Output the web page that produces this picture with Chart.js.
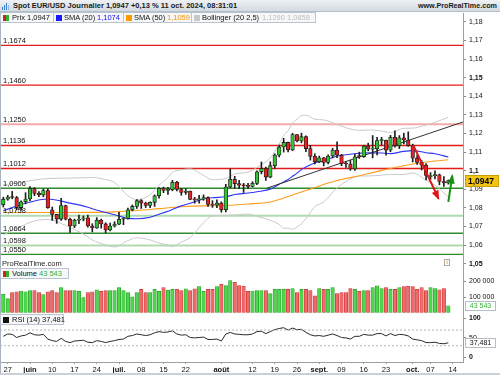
<!DOCTYPE html>
<html><head><meta charset="utf-8">
<script src="https://cdn.jsdelivr.net/npm/chart.js@4.4.1/dist/chart.umd.min.js"></script>
<style>
html,body{margin:0;padding:0;background:#fff;}
#wrap{position:relative;width:500px;height:375px;overflow:hidden;font-family:"Liberation Sans",Arial,sans-serif;}
canvas{position:absolute;left:0;}
.abs{position:absolute;white-space:nowrap;}
.lg{position:absolute;height:11px;box-sizing:border-box;border:1px solid #b9c4cf;background:#f5f7f9;font-size:7.5px;}
.lg i{position:absolute;top:1.5px;width:6px;height:6px;}
.lg span{position:absolute;top:0;line-height:9px;white-space:nowrap;color:#111;}
</style></head>
<body>
<div id="wrap">
<canvas id="cMain" width="500" height="255" style="top:13px"></canvas>
<canvas id="cVol" width="500" height="45" style="top:268px"></canvas>
<canvas id="cRsi" width="500" height="62" style="top:313px"></canvas>

<div class="abs" style="left:0;top:0;width:1px;height:375px;background:#a9b3bd"></div>
<div class="abs" style="left:0;top:373px;width:500px;height:2px;background:#c9d0d7"></div>

<div class="abs" style="left:0;top:0;width:500px;height:12px;background:linear-gradient(#eef1f4,#d3dae1);border-bottom:1px solid #b4bec8;box-sizing:border-box"></div>
<div class="abs" style="left:2px;top:2px;width:9px;height:8px">
  <span class="abs" style="left:0;top:5px;width:1px;height:3px;background:#3f7fd0"></span>
  <span class="abs" style="left:2px;top:3px;width:1px;height:5px;background:#3f7fd0"></span>
  <span class="abs" style="left:4px;top:1px;width:1px;height:7px;background:#3f7fd0"></span>
  <span class="abs" style="left:6px;top:3px;width:1px;height:5px;background:#8fb7e6"></span>
</div>
<div class="abs" style="left:13px;top:0;font-weight:bold;font-size:7.5px;line-height:11px;color:#1a1a1a">Spot EUR/USD Journalier 1,0947 +0,13 % 11 oct. 2024, 08:31:01</div>
<div class="abs" style="right:3px;top:0;font-weight:bold;font-size:7.2px;line-height:11px;color:#1a1a1a">www.ProRealTime.com</div>

<div class="lg" style="left:0;top:12px;width:54px"><i style="left:2px;background:linear-gradient(90deg,#d42020 50%,#2bb52b 50%)"></i><span style="left:11px">Prix 1,0947</span></div>
<div class="lg" style="left:53px;top:12px;width:71px"><i style="left:2px;background:#1a1aff"></i><span style="left:10px">SMA (20)</span><span style="left:43px;color:#1414ee">1,1074</span></div>
<div class="lg" style="left:123px;top:12px;width:69px"><i style="left:2px;background:#ff9a00"></i><span style="left:10px">SMA (50)</span><span style="left:43px;color:#f39200">1,1059</span></div>
<div class="lg" style="left:191px;top:12px;width:125px"><i style="left:2px;background:#c8c8c8"></i><span style="left:10px">Bollinger (20 2,5)</span><span style="left:70px;color:#bdbdbd">1,1290 1,0858</span></div>

<div class="abs" style="left:2px;top:259px;font-size:7.5px;line-height:9px;color:#222">ProRealTime.com</div>
<div class="abs" style="left:444px;top:259px;width:6px;height:7px;border:1px solid #aaa;box-sizing:border-box;font-size:5.5px;line-height:5px;text-align:center;color:#777;background:#fff">i</div>

<div class="lg" style="left:0;top:268px;width:69px"><i style="left:2px;background:linear-gradient(90deg,#d42020 50%,#2bb52b 50%)"></i><span style="left:11px">Volume</span><span style="left:38px;color:#2fb52f">43 543</span></div>
<div class="lg" style="left:0;top:314px;width:64px"><i style="left:2px;background:#111"></i><span style="left:11px">RSI (14) 37,481</span></div>
</div>

<script>
// ---------------- DATA ----------------
const dates = ["24/05","27/05","28/05","29/05","30/05","31/05","03/06","04/06","05/06","06/06","07/06","10/06","11/06","12/06","13/06","14/06","17/06","18/06","19/06","20/06","21/06","24/06","25/06","26/06","27/06","28/06","01/07","02/07","03/07","04/07","05/07","08/07","09/07","10/07","11/07","12/07","15/07","16/07","17/07","18/07","19/07","22/07","23/07","24/07","25/07","26/07","29/07","30/07","31/07","01/08","02/08","05/08","06/08","07/08","08/08","09/08","12/08","13/08","14/08","15/08","16/08","19/08","20/08","21/08","22/08","23/08","26/08","27/08","28/08","29/08","30/08","02/09","03/09","04/09","05/09","06/09","09/09","10/09","11/09","12/09","13/09","16/09","17/09","18/09","19/09","20/09","23/09","24/09","25/09","26/09","27/09","30/09","01/10","02/10","03/10","04/10","07/10","08/10","09/10","10/10","11/10"];
const opens = [1.0817,1.0847,1.0858,1.0856,1.0802,1.0833,1.0848,1.0904,1.0878,1.0870,1.0893,1.0790,1.0765,1.0740,1.0813,1.0739,1.0703,1.0734,1.0740,1.0747,1.0703,1.0692,1.0734,1.0714,1.0682,1.0703,1.0713,1.0739,1.0743,1.0790,1.0808,1.0839,1.0826,1.0813,1.0830,1.0865,1.0906,1.0894,1.0898,1.0938,1.0899,1.0883,1.0891,1.0846,1.0843,1.0848,1.0855,1.0819,1.0815,1.0826,1.0791,1.0912,1.0954,1.0931,1.0922,1.0919,1.0916,1.0932,1.0994,1.1012,1.0966,1.1027,1.1084,1.1128,1.1152,1.1112,1.1194,1.1160,1.1183,1.1119,1.1077,1.1048,1.1069,1.1045,1.1079,1.1111,1.1083,1.1038,1.1036,1.1010,1.1080,1.1076,1.1133,1.1116,1.1118,1.1162,1.1164,1.1110,1.1180,1.1134,1.1177,1.1165,1.1135,1.1067,1.1045,1.1030,1.0968,1.0974,1.0978,1.0942,1.0935];
const highs = [1.0858,1.0868,1.0889,1.0862,1.0838,1.0882,1.0915,1.0909,1.0888,1.0902,1.0902,1.0805,1.0766,1.0852,1.0815,1.0745,1.0740,1.0761,1.0757,1.0761,1.0715,1.0748,1.0740,1.0720,1.0718,1.0726,1.0776,1.0748,1.0799,1.0816,1.0845,1.0845,1.0831,1.0833,1.0870,1.0909,1.0912,1.0911,1.0948,1.0943,1.0905,1.0903,1.0891,1.0857,1.0868,1.0870,1.0860,1.0839,1.0843,1.0833,1.0927,1.1009,1.0970,1.0949,1.0932,1.0932,1.0941,1.1000,1.1047,1.1019,1.1048,1.1091,1.1138,1.1174,1.1154,1.1201,1.1195,1.1202,1.1187,1.1136,1.1091,1.1079,1.1072,1.1085,1.1121,1.1156,1.1088,1.1048,1.1055,1.1088,1.1100,1.1137,1.1148,1.1189,1.1180,1.1180,1.1165,1.1190,1.1214,1.1189,1.1202,1.1209,1.1143,1.1084,1.1055,1.1038,1.0990,1.0999,1.0982,1.0968,1.0950];
const lows = [1.0805,1.0841,1.0849,1.0789,1.0788,1.0822,1.0837,1.0866,1.0860,1.0860,1.0798,1.0733,1.0717,1.0733,1.0735,1.0668,1.0694,1.0715,1.0730,1.0697,1.0671,1.0690,1.0691,1.0666,1.0677,1.0697,1.0710,1.0710,1.0739,1.0784,1.0797,1.0797,1.0802,1.0801,1.0808,1.0852,1.0882,1.0872,1.0892,1.0891,1.0868,1.0873,1.0844,1.0825,1.0825,1.0841,1.0808,1.0803,1.0801,1.0777,1.0778,1.0908,1.0905,1.0903,1.0883,1.0904,1.0913,1.0925,1.0983,1.0948,1.0962,1.1012,1.1074,1.1100,1.1101,1.1108,1.1155,1.1150,1.1103,1.1057,1.1036,1.1044,1.1026,1.1037,1.1069,1.1070,1.1027,1.1018,1.1002,1.1001,1.1066,1.1072,1.1107,1.1069,1.1085,1.1138,1.1083,1.1102,1.1126,1.1119,1.1144,1.1131,1.1047,1.1034,1.1004,1.0951,1.0954,1.0956,1.0924,1.0916,1.0928];
const closes = [1.0847,1.0858,1.0856,1.0802,1.0833,1.0848,1.0904,1.0878,1.0870,1.0893,1.0801,1.0765,1.0740,1.0813,1.0739,1.0703,1.0734,1.0740,1.0747,1.0703,1.0692,1.0734,1.0714,1.0682,1.0703,1.0713,1.0739,1.0743,1.0790,1.0808,1.0839,1.0826,1.0813,1.0830,1.0865,1.0906,1.0894,1.0898,1.0938,1.0899,1.0883,1.0891,1.0846,1.0843,1.0848,1.0855,1.0819,1.0815,1.0826,1.0791,1.0912,1.0954,1.0931,1.0922,1.0919,1.0916,1.0932,1.0994,1.1012,1.0966,1.1027,1.1084,1.1128,1.1152,1.1112,1.1194,1.1160,1.1183,1.1119,1.1077,1.1048,1.1069,1.1045,1.1079,1.1111,1.1083,1.1038,1.1036,1.1010,1.1075,1.1076,1.1133,1.1116,1.1118,1.1162,1.1164,1.1110,1.1180,1.1134,1.1177,1.1165,1.1135,1.1067,1.1045,1.1030,1.0975,1.0974,1.0978,1.0942,1.0935,1.0947];
const volumes = [118000,90000,128000,134000,139000,134000,141000,141000,128000,116000,
134000,141000,128000,160000,141000,141000,141000,137000,97000,128000,
134000,147000,137000,141000,141000,141000,160000,141000,128000,101000,
128000,149000,128000,128000,149000,137000,160000,145000,149000,149000,
141000,153000,141000,153000,168000,137000,149000,149000,168000,181000,
174000,206000,195000,174000,170000,137000,139000,141000,141000,141000,
122000,149000,149000,149000,149000,155000,128000,149000,149000,141000,
107000,155000,149000,149000,160000,122000,128000,128000,155000,149000,
137000,141000,141000,160000,172000,155000,160000,149000,149000,160000,
168000,170000,168000,149000,160000,141000,160000,155000,147000,155000,
43543];
const rsi14 = [54,60,59,51,55,57,63,58,57,59,47,43,41,49,41,38,42,43,44,39,38,43,41,38,41,43,46,47,54,56,60,58,56,58,63,66,64,65,68,60,57,58,51,50,51,52,46,46,47,42,60,64,60,59,58,58,60,66,67,61,66,71,74,76,70,75,71,72,64,58,55,56,54,57,60,56,51,50,47,54,54,59,57,57,61,61,55,61,56,59,58,55,47,45,43,38,38,39,36,35,37.481];

const sma20Idx = [0,5,10,15,19,20,25,28,30,33,35,37,38,40,42,45,47,50,52,55,57,60,62,63,64,65,66,67,68,70,72,75,77,80,82,85,87,90,92,95,97,100];
const sma20Val = [1.0785,1.0825,1.0848,1.0826,1.0804,1.0796,1.0763,1.0744,1.0742,1.0750,1.0766,1.0782,1.0792,1.0811,1.0825,1.0848,1.0855,1.0860,1.0872,1.0880,1.0887,1.0901,1.0927,1.0940,1.0953,1.0970,1.0987,1.1006,1.1020,1.1042,1.1053,1.1079,1.1086,1.1094,1.1096,1.1095,1.1092,1.1104,1.1108,1.1097,1.1091,1.1074];
const sma50Idx = [0,5,10,15,20,25,30,35,40,45,49,55,60,65,70,75,80,85,90,95,100];
const sma50Val = [1.0776,1.0775,1.0775,1.0775,1.0776,1.0779,1.0786,1.0796,1.0806,1.0811,1.0812,1.0821,1.0832,1.0870,1.0910,1.0947,1.0973,1.1002,1.1027,1.1047,1.1059];
const bbIdx = [0,3,7,10,14,19,20,23,25,28,30,33,35,37,38,40,42,45,47,50,52,55,57,60,62,63,64,65,66,67,68,70,72,75,77,80,82,85,87,90,92,95,97,100];
const bbUpper = [1.0925,1.0933,1.0950,1.0958,1.0960,1.0963,1.0964,1.0952,1.0937,1.0865,1.0845,1.0871,1.0922,1.0963,1.0990,1.1005,1.1010,1.0975,1.0952,1.0958,1.0982,1.0993,1.1018,1.1069,1.1143,1.1191,1.1215,1.1256,1.1277,1.1296,1.1298,1.1277,1.1273,1.1249,1.1231,1.1217,1.1219,1.1214,1.1205,1.1228,1.1229,1.1246,1.1260,1.1288];
const bbLower = [1.0655,1.0690,1.0730,1.0738,1.0706,1.0645,1.0628,1.0601,1.0590,1.0624,1.0639,1.0628,1.0611,1.0601,1.0593,1.0617,1.0641,1.0720,1.0758,1.0761,1.0762,1.0767,1.0755,1.0733,1.0711,1.0690,1.0692,1.0685,1.0698,1.0715,1.0743,1.0806,1.0833,1.0908,1.0942,1.0971,1.0972,1.0976,1.0980,1.0980,1.0988,1.0949,1.0922,1.0860];

const levelValues = [1.1674,1.1460,1.1250,1.1136,1.1012,1.0906,1.0758,1.0664,1.0598,1.0550];
const levelLabels = ["1,1674","1,1460","1,1250","1,1136","1,1012","1,0906","1,0758","1,0664","1,0598","1,0550"];
const trendIdx = [59.3, 103.3, 111.6];
const trendVal = [1.0907, 1.1262, 1.1271];
const redArrowIdx = [92.1, 95.0, 97.8];
const redArrowVal = [1.1138, 1.0993, 1.0850];
const greenArrowIdx = [100.0, 100.9];
const greenArrowVal = [1.0832, 1.0974];

const priceTicks = [1.05,1.06,1.07,1.08,1.09,1.10,1.11,1.12,1.13,1.14,1.15,1.16,1.17,1.18];
const priceTickLabels = ["1,05","1,06","1,07","1,08","1,09","1,1","1,11","1,12","1,13","1,14","1,15","1,16","1,17","1,18"];
const boldPriceTicks = ["1,05","1,1","1,15"];
const volTicks = [100000,200000];
const volTickLabels = ["100 000","200 000"];
const rsiTicks = [0,50,100];
const rsiTickLabels = ["0","50","100"];
const rsiLevels = [70,30];
const xTickIdx = [1,6,11,16,21,26,31,36,41,49,56,61,66,71,76,81,86,92,96,101];
const xTickLabels = ["27","juin","10","17","24","juil.","08","15","22","août","12","19","26","sept.","09","16","23","oct.","07","14"];
const monthLabels = ["juin","juil.","août","sept.","oct."];

// ---------------- STYLE / LAYOUT ----------------
const XMIN = -0.742, XMAX = 103.3;
const PMIN = 1.0477, PMAX = 1.1848;
const FONT = '"Liberation Sans", Arial, sans-serif';
Chart.defaults.font.family = FONT;
const levelStyle = [
  ['#e31b1b',1.4],['#e31b1b',1.4],['#f5aaaa',2.2],['#e31b1b',1.4],['#e31b1b',1.4],
  ['#2e8b2e',1.4],['#b0dbb0',2.2],['#2e8b2e',1.4],['#b0dbb0',2.2],['#2e8b2e',1.4]
];
const GREEN = '#33c433', RED = '#e42222';

const idx = dates.map((d,i)=>i);
const up = idx.map(i => closes[i] >= opens[i]);
const pts = (xs, ys) => xs.map((x,i)=>({x, y: ys[i]}));
const commaFmt = (v, d) => v.toFixed(d).replace('.', ',');
const spaceFmt = v => String(Math.round(v)).replace(/\B(?=(\d{3})+(?!\d))/g, ' ');

function rightAxis(min, max, ticks, labels, boldList) {
  return {
    type:'linear', position:'right', min, max, beginAtZero:false,
    afterBuildTicks: s => { s.ticks = ticks.map(v=>({value:v})); },
    afterFit: s => { s.width = 37; s.paddingTop = 0; s.paddingBottom = 0; },
    ticks: { callback:(v,i)=>labels[i], color:'#111', padding:3,
      font: c => ({size:7, family:FONT, weight: boldList.includes(labels[c.index]) ? 'bold' : 'normal'}) },
    grid: { drawOnChartArea:false, drawTicks:true, tickLength:3, color:'#8c8c8c', offset:false },
    border: { display:true, color:'#9aa0a6' }
  };
}
const hiddenX = { type:'linear', min:XMIN, max:XMAX, display:false, offset:false, grid:{offset:false} };
const baseOpts = { responsive:false, animation:false, devicePixelRatio:1, events:[],
  layout:{padding:0}, plugins:{legend:{display:false}, tooltip:{enabled:false}} };

function drawHead(ctx, xs, ys, xi, yv, col) {
  const n = xi.length;
  const x1 = xs.getPixelForValue(xi[n-2]), y1 = ys.getPixelForValue(yv[n-2]);
  const x2 = xs.getPixelForValue(xi[n-1]), y2 = ys.getPixelForValue(yv[n-1]);
  const a = Math.atan2(y2-y1, x2-x1), L = 8, W = 3.6;
  const bx = x2 - Math.cos(a)*L, by = y2 - Math.sin(a)*L;
  ctx.fillStyle = col; ctx.beginPath();
  ctx.moveTo(x2 + Math.cos(a)*1.5, y2 + Math.sin(a)*1.5);
  ctx.lineTo(bx - Math.sin(a)*W, by + Math.cos(a)*W);
  ctx.lineTo(bx + Math.sin(a)*W, by - Math.cos(a)*W);
  ctx.closePath(); ctx.fill();
}
function tag(ctx, py, text, bg, fg, border, bold, size) {
  ctx.save();
  ctx.fillStyle = bg; ctx.fillRect(465.5, Math.round(py)-4.5, 30, 9);
  ctx.strokeStyle = border; ctx.lineWidth = 1; ctx.strokeRect(465.5, Math.round(py)-4.5, 30, 9);
  ctx.fillStyle = fg; ctx.font = (bold?'bold ':'') + size + 'px ' + FONT;
  ctx.textBaseline = 'middle'; ctx.textAlign = 'center';
  ctx.fillText(text, 480.5, Math.round(py)+0.5);
  ctx.restore();
}

// ---------------- MAIN PRICE CHART ----------------
const mainOverlay = {
  id:'mainOverlay',
  afterDatasetsDraw(chart) {
    const {ctx} = chart, xs = chart.scales.x, ys = chart.scales.y;
    ctx.save();
    ctx.font = '7.5px ' + FONT; ctx.fillStyle = '#111';
    ctx.textBaseline = 'alphabetic'; ctx.textAlign = 'left';
    levelValues.forEach((v,i)=> ctx.fillText(levelLabels[i], 3, ys.getPixelForValue(v) - 2.5));
    drawHead(ctx, xs, ys, redArrowIdx, redArrowVal, '#e01414');
    drawHead(ctx, xs, ys, greenArrowIdx, greenArrowVal, '#149014');
    ctx.restore();
  },
  afterDraw(chart) {
    const ys = chart.scales.y, last = closes[closes.length-1];
    const ctx = chart.ctx, py = Math.round(ys.getPixelForValue(last));
    ctx.save();
    ctx.fillStyle = '#f3c316'; ctx.fillRect(465.5, py-5.5, 33, 11);
    ctx.strokeStyle = '#caa000'; ctx.strokeRect(465.5, py-5.5, 33, 11);
    ctx.fillStyle = '#000'; ctx.font = 'bold 8.5px ' + FONT;
    ctx.textBaseline = 'middle'; ctx.textAlign = 'left';
    ctx.fillText(commaFmt(last,4), 468, py+0.5);
    ctx.restore();
  }
};

const mainSets = [];
levelValues.forEach((v,i)=> mainSets.push({type:'line', data:[{x:XMIN,y:v},{x:XMAX,y:v}],
  borderColor:levelStyle[i][0], borderWidth:levelStyle[i][1], pointRadius:0, order:20}));
mainSets.push({type:'line', data:pts(bbIdx,bbUpper), borderColor:'#c9c9c9', borderWidth:1, pointRadius:0, cubicInterpolationMode:'monotone', order:15});
mainSets.push({type:'line', data:pts(bbIdx,bbLower), borderColor:'#c9c9c9', borderWidth:1, pointRadius:0, cubicInterpolationMode:'monotone', order:15});
mainSets.push({type:'line', data:pts(sma50Idx,sma50Val), borderColor:'#ff9d1a', borderWidth:1.1, pointRadius:0, cubicInterpolationMode:'monotone', order:14});
mainSets.push({type:'line', data:pts(sma20Idx,sma20Val), borderColor:'#2f35f5', borderWidth:1.1, pointRadius:0, cubicInterpolationMode:'monotone', order:13});
mainSets.push({type:'line', data:pts(trendIdx,trendVal), borderColor:'#333', borderWidth:1, pointRadius:0, clip:false, order:12});
mainSets.push({type:'bar', data:idx.map(i=>({x:i, y:[lows[i], highs[i]]})), backgroundColor:'#1e1e1e',
  barThickness:1, grouped:false, borderWidth:0, order:8});
mainSets.push({type:'bar', data:idx.map(i=>({x:i, y:[opens[i], closes[i]]})),
  backgroundColor: up.map(u=>u?GREEN:RED), borderColor:'#1e1e1e', borderWidth:0.8, borderSkipped:false,
  barThickness:3.6, minBarLength:1, grouped:false, order:7});
mainSets.push({type:'line', data:pts(redArrowIdx,redArrowVal), borderColor:'#e01414', borderWidth:2, pointRadius:0, clip:false, order:2});
mainSets.push({type:'line', data:pts(greenArrowIdx,greenArrowVal), borderColor:'#149014', borderWidth:2, pointRadius:0, clip:false, order:2});

new Chart(document.getElementById('cMain'), {
  type:'bar', data:{datasets:mainSets},
  options:Object.assign({}, baseOpts, { scales:{ x:hiddenX,
    y:rightAxis(PMIN, PMAX, priceTicks, priceTickLabels, boldPriceTicks) } }),
  plugins:[mainOverlay]
});

// ---------------- VOLUME ----------------
const volOverlay = { id:'volOverlay', afterDraw(chart){
  const py = chart.scales.y.getPixelForValue(volumes[volumes.length-1]);
  tag(chart.ctx, py, spaceFmt(volumes[volumes.length-1]), '#fff', '#33b533', '#b5bec7', false, 7);
}};
new Chart(document.getElementById('cVol'), {
  type:'bar',
  data:{datasets:[{data:idx.map(i=>({x:i, y:volumes[i]})),
    backgroundColor: up.map(u=>u?'#4fd64f':'#ef6b6b'), borderColor: up.map(u=>u?'#2a9e2a':'#c93636'),
    borderWidth:0.7, borderSkipped:false, barThickness:3.5, grouped:false}]},
  options:Object.assign({}, baseOpts, { scales:{ x:hiddenX,
    y:rightAxis(-3226, 287100, volTicks, volTickLabels, []) } }),
  plugins:[volOverlay]
});

// ---------------- RSI ----------------
const rsiOverlay = { id:'rsiOverlay', afterDraw(chart){
  const v = rsi14[rsi14.length-1];
  tag(chart.ctx, chart.scales.y.getPixelForValue(v), commaFmt(v,3), '#fff', '#111', '#b5bec7', false, 7);
}};
const rsiY = rightAxis(-11.5, 113.5, rsiTicks, rsiTickLabels, ["0","100"]);
new Chart(document.getElementById('cRsi'), {
  type:'line',
  data:{datasets:[
    {data:[{x:XMIN,y:rsiLevels[0]},{x:XMAX,y:rsiLevels[0]}], borderColor:'#b4b4b4', borderWidth:1, borderDash:[2,2], pointRadius:0},
    {data:[{x:XMIN,y:rsiLevels[1]},{x:XMAX,y:rsiLevels[1]}], borderColor:'#b4b4b4', borderWidth:1, borderDash:[2,2], pointRadius:0},
    {data:idx.map(i=>({x:i, y:rsi14[i]})), borderColor:'#2a2a2a', borderWidth:1, pointRadius:0, tension:0}
  ]},
  options:Object.assign({}, baseOpts, { scales:{
    x:{ type:'linear', position:'bottom', min:XMIN, max:XMAX, offset:false,
      afterBuildTicks: s => { s.ticks = xTickIdx.map(v=>({value:v})); },
      afterFit: s => { s.height = 13; s.paddingLeft = 0; s.paddingRight = 0; },
      ticks:{ autoSkip:false, maxRotation:0, minRotation:0, padding:1, color:'#111',
        callback:(v,i)=>xTickLabels[i],
        font: c => ({size:7.5, family:FONT, weight: monthLabels.includes(xTickLabels[c.index]) ? 'bold' : 'normal'}) },
      grid:{ drawOnChartArea:false, tickLength:2, color:'#9aa0a6', offset:false },
      border:{ display:true, color:'#9aa0a6' } },
    y: rsiY } }),
  plugins:[rsiOverlay]
});
</script>
</body></html>
